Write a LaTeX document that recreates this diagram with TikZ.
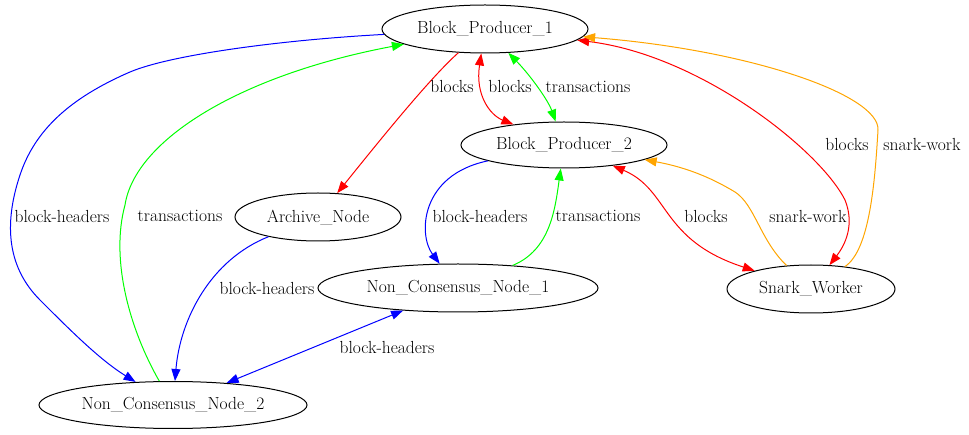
\documentclass[tikz,border=0pt]{standalone}
\usetikzlibrary{shapes.geometric,arrows.meta}
\definecolor{gvblue}{RGB}{0,0,255}
\definecolor{gvgreen}{RGB}{0,255,0}
\definecolor{gvred}{RGB}{255,0,0}
\definecolor{gvorange}{RGB}{255,165,0}
\tikzset{
  nd/.style={draw, ellipse, line width=1pt, inner sep=0pt, font=\rmfamily\fontsize{17.5}{20}\selectfont},
  lbl/.style={inner sep=0pt, font=\rmfamily\fontsize{17.5}{20}\selectfont},
  e/.style={line width=1pt, >={Triangle[length=12pt,width=9pt]}}
}
\begin{document}
\begin{tikzpicture}[x=1pt,y=-1pt]
\useasboundingbox (0,0) rectangle (969,435);
% nodes
\node[nd, minimum width=206pt, minimum height=48pt] (bp1) at (485,29) {Block\_Producer\_1};
\node[nd, minimum width=206pt, minimum height=46pt] (bp2) at (564,145) {Block\_Producer\_2};
\node[nd, minimum width=166pt, minimum height=48pt] (an) at (318,217) {Archive\_Node};
\node[nd, minimum width=280pt, minimum height=48pt] (ncn1) at (458,288) {Non\_Consensus\_Node\_1};
\node[nd, minimum width=268pt, minimum height=47pt] (ncn2) at (173,405) {Non\_Consensus\_Node\_2};
\node[nd, minimum width=168pt, minimum height=48pt] (sw) at (811,289) {Snark\_Worker};
% edges
\draw[e, gvblue, ->] (bp1) .. controls (280,40) and (170,55) .. (130,72)
   .. controls (70,98) and (35,130) .. (20,175) .. controls (5,220) and (5,265) .. (40,300)
   .. controls (70,330) and (100,360) .. (ncn2);
\draw[e, gvgreen, ->] (ncn2) .. controls (130,330) and (110,260) .. (125,205)
   .. controls (135,140) and (240,75) .. (bp1);
\draw[e, gvred, ->] (bp1) .. controls (430,78) and (380,140) .. (an);
\draw[e, gvred, <->] (bp1) .. controls (475,95) and (490,115) .. (bp2);
\draw[e, gvgreen, <->] (bp1) .. controls (530,75) and (548,100) .. (bp2);
\draw[e, gvred, <->] (bp1) .. controls (700,55) and (820,150) .. (845,200)
   .. controls (855,225) and (845,245) .. (sw);
\draw[e, gvorange, ->] (sw) .. controls (870,250) and (875,180) .. (878,130)
   .. controls (880,95) and (750,50) .. (bp1);
\draw[e, gvblue, ->] (bp2) .. controls (420,175) and (418,235) .. (ncn1);
\draw[e, gvgreen, ->] (ncn1) .. controls (550,250) and (555,210) .. (bp2);
\draw[e, gvred, <->] (bp2) .. controls (670,190) and (660,240) .. (sw);
\draw[e, gvorange, ->] (sw) .. controls (760,240) and (755,205) .. (735,192)
   .. controls (715,180) and (690,168) .. (bp2);
\draw[e, gvblue, ->] (an) .. controls (210,260) and (180,320) .. (ncn2);
\draw[e, gvblue, <->] (ncn1) -- (ncn2);
% labels
\node[lbl] (l1) at (62,216) {block-headers};
\node[lbl] (l2) at (180,216) {transactions};
\node[lbl] (l3) at (452,87) {blocks};
\node[lbl] (l4) at (510,87) {blocks};
\node[lbl] (l5) at (588,87) {transactions};
\node[lbl] (l6) at (847,145) {blocks};
\node[lbl] (l7) at (922,145) {snark-work};
\node[lbl] (l8) at (480,216) {block-headers};
\node[lbl] (l9) at (598,216) {transactions};
\node[lbl] (l10) at (706,216) {blocks};
\node[lbl] (l11) at (808,216) {snark-work};
\node[lbl] (l12) at (267,288) {block-headers};
\node[lbl] (l13) at (387,347) {block-headers};
\end{tikzpicture}
\end{document}
